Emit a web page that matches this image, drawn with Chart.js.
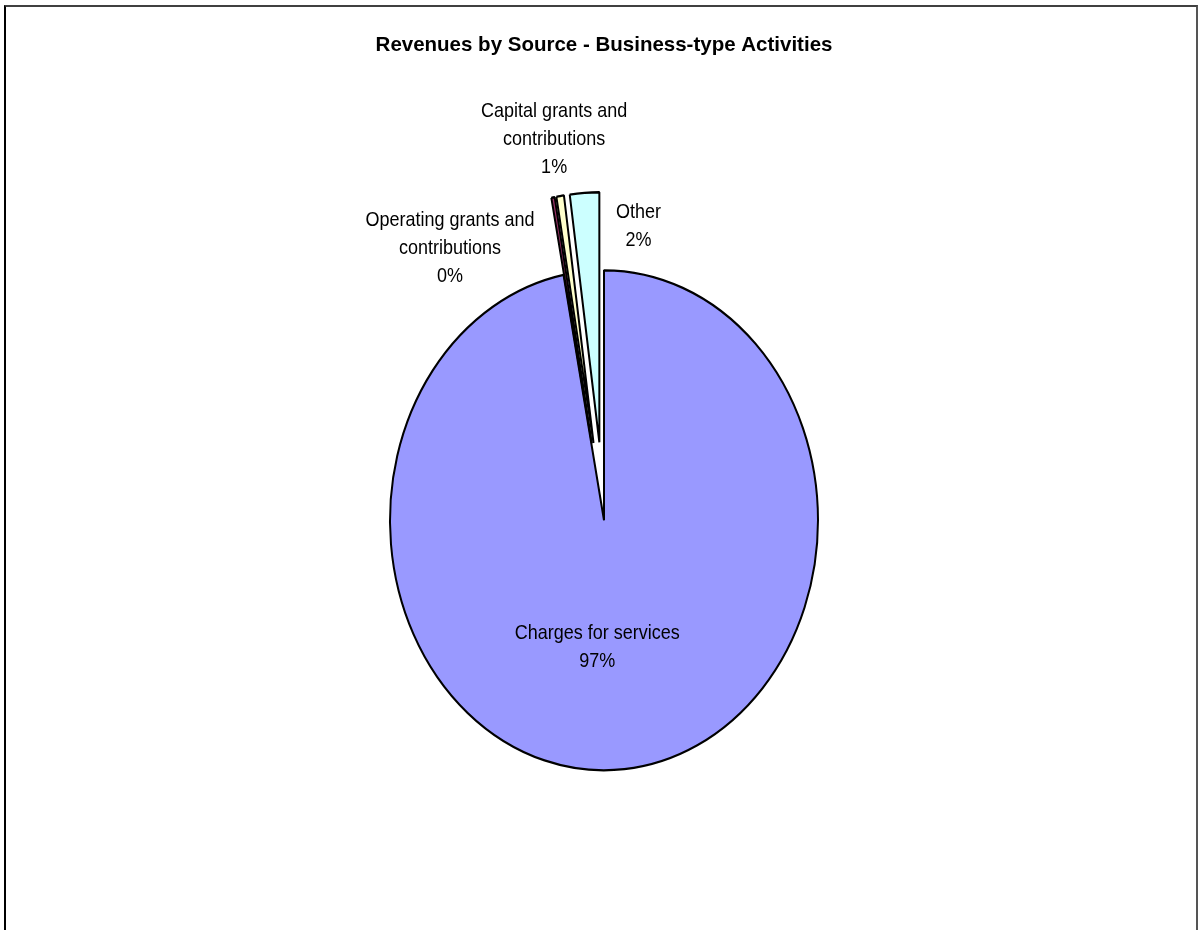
<!DOCTYPE html>
<html><head><meta charset="utf-8">
<script src="https://cdn.jsdelivr.net/npm/chart.js@4.4.0/dist/chart.umd.min.js"></script>
<style>
html,body{margin:0;padding:0;background:#fff;overflow:hidden;width:1198px;height:930px;}
#frame{position:absolute;left:4px;top:5px;width:1194px;height:1000px;border-left:2px solid #000;border-top:2px solid #404040;border-right:2px solid #555;box-sizing:border-box;}
#c{position:absolute;left:0;top:0;}
</style></head><body>
<div id="frame"></div>
<canvas id="c" width="1198" height="930"></canvas>
<script>
// ---- data ----
const categories = ['Charges for services', 'Operating grants and contributions', 'Capital grants and contributions', 'Other'];
const labelLines = [['Charges for services'], ['Operating grants and', 'contributions'], ['Capital grants and', 'contributions'], ['Other']];
const values = [96.97, 0.25, 0.57, 2.21];
const titleText = 'Revenues by Source - Business-type Activities';

// ---- styling / layout ----
const sliceColors = ['#9999FF', '#993366', '#FFFFCC', '#CCFFFF'];
const explode = [0, 67, 67, 67];
const PIE_R = 214;
const SY = 250 / 214;           // vertical stretch of the pie (ellipse)
const TEXT_SY = 1.1;
const LINE_H = 28;
const labelPlacement = [
  {inside: 0.5, dx: -17, dy: 3},
  {inside: null, dx: -103, dy: 51},
  {inside: null, dx: -6, dy: -57},
  {inside: null, dx: 54, dy: 34}
];

const ellipsePlugin = {
  id: 'ellipse',
  beforeDatasetDraw(chart, args) {
    const meta = args.meta;
    const ctx = chart.ctx;
    const cy = meta.data[0].y;
    ctx.save();
    ctx.translate(0, cy);
    ctx.scale(1, SY);
    ctx.translate(0, -cy);
    meta.data.forEach((arc, i) => {
      const mid = (arc.startAngle + arc.endAngle) / 2;
      ctx.save();
      ctx.translate(Math.cos(mid) * explode[i], Math.sin(mid) * explode[i]);
      arc.draw(ctx, chart.chartArea);
      ctx.restore();
    });
    ctx.restore();
    return false;
  },
  afterDatasetsDraw(chart) {
    const ctx = chart.ctx;
    const meta = chart.getDatasetMeta(0);
    const total = values.reduce((s, v) => s + v, 0);
    ctx.save();
    ctx.fillStyle = '#000';
    ctx.font = '18px "Liberation Sans", Arial, sans-serif';
    ctx.textAlign = 'center';
    ctx.textBaseline = 'middle';
    meta.data.forEach((arc, i) => {
      const mid = (arc.startAngle + arc.endAngle) / 2;
      const p = labelPlacement[i];
      const dist = p.inside != null ? arc.outerRadius * p.inside : arc.outerRadius + explode[i];
      const x = arc.x + Math.cos(mid) * dist + p.dx;
      const y = arc.y + Math.sin(mid) * dist * SY + p.dy;
      const lines = labelLines[i].concat([Math.round(values[i] / total * 100) + '%']);
      lines.forEach((t, k) => {
        const ly = y + (k - (lines.length - 1) / 2) * LINE_H;
        ctx.save();
        ctx.translate(x, ly);
        ctx.scale(1, TEXT_SY);
        ctx.fillText(t, 0, 0);
        ctx.restore();
      });
    });
    ctx.restore();
  }
};

new Chart(document.getElementById('c'), {
  type: 'pie',
  data: {
    labels: categories,
    datasets: [{
      data: values,
      backgroundColor: sliceColors,
      borderColor: '#000',
      borderWidth: 2,
      borderJoinStyle: 'bevel',
      clip: false
    }]
  },
  options: {
    responsive: false,
    animation: false,
    events: [],
    radius: PIE_R,
    layout: {padding: {left: 10, right: 0, top: 0, bottom: 0}},
    plugins: {
      legend: {display: false},
      tooltip: {enabled: false},
      title: {
        display: true,
        text: titleText,
        color: '#000',
        font: {family: '"Liberation Sans", Arial, sans-serif', size: 20.5, weight: 'bold'},
        padding: {top: 33, bottom: 53}
      }
    }
  },
  plugins: [ellipsePlugin]
});
</script>
</body></html>
